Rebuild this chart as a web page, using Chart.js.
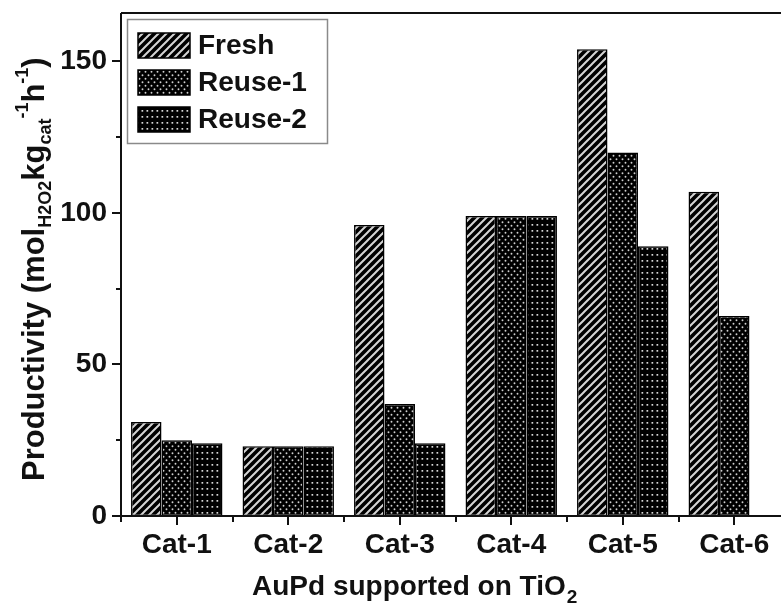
<!DOCTYPE html>
<html>
<head>
<meta charset="utf-8">
<script src="https://cdn.jsdelivr.net/npm/chart.js@4"></script>
<style>
  html, body { margin: 0; padding: 0; background: #fff; overflow: hidden; }
  canvas { display: block; }
</style>
</head>
<body>
<canvas id="chart" width="800" height="605"></canvas>
<script>
// values
const categories = ["Cat-1", "Cat-2", "Cat-3", "Cat-4", "Cat-5", "Cat-6"];
const seriesNames = ["Fresh", "Reuse-1", "Reuse-2"];
const fresh = [31, 23, 96, 99, 154, 107];
const reuse1 = [25, 23, 37, 99, 120, 66];
const reuse2 = [24, 23, 24, 99, 89, null];
const yTicks = [0, 50, 100, 150];
const yMinorTicks = [25, 75, 125];
const yMax = 166;

const FONT = "'Liberation Sans', Arial, sans-serif";
const ink = "#111";

const canvas = document.getElementById("chart");
const ctx = canvas.getContext("2d");

function makePattern(w, h, draw) {
    const c = document.createElement("canvas");
    c.width = w;
    c.height = h;
    const g = c.getContext("2d");
    g.fillStyle = "#000";
    g.fillRect(0, 0, w, h);
    draw(g, w, h);
    return ctx.createPattern(c, "repeat");
}

// diagonal hatch
const hatch = makePattern(8, 8, function (g, w, h) {
    g.strokeStyle = "#d4d4d4";
    g.lineWidth = 2;
    g.beginPath();
    g.moveTo(-2, h + 2); g.lineTo(w + 2, -2);
    g.moveTo(-6, 6); g.lineTo(6, -6);
    g.moveTo(2, h + 6); g.lineTo(w + 6, 2);
    g.stroke();
});
// staggered dots
const dots = makePattern(6, 7, function (g) {
    g.fillStyle = "#cfcfcf";
    g.beginPath();
    g.arc(1.5, 1.75, 0.95, 0, Math.PI * 2);
    g.arc(4.5, 5.25, 0.95, 0, Math.PI * 2);
    g.fill();
});
// square grid dots
const grid = makePattern(5, 6, function (g) {
    g.fillStyle = "#d8d8d8";
    g.fillRect(1.5, 2, 1.7, 1.7);
});

const patterns = [hatch, dots, grid];
const seriesData = [fresh, reuse1, reuse2];

const framePlugin = {
    id: "frame",
    afterDraw(chart) {
        const c = chart.ctx;
        const area = chart.chartArea;
        const xs = chart.scales.x;
        const ys = chart.scales.y;
        c.save();
        c.strokeStyle = ink;
        c.lineWidth = 2;
        c.lineCap = "butt";

        // box
        c.beginPath();
        c.moveTo(area.left, area.top);
        c.lineTo(area.right, area.top);
        c.lineTo(area.right, area.bottom);
        c.moveTo(area.left, area.top);
        c.lineTo(area.left, area.bottom + 6);
        c.moveTo(area.left - 9, area.bottom);
        c.lineTo(area.right, area.bottom);
        c.stroke();

        // y ticks
        c.beginPath();
        yTicks.forEach(function (v) {
            const y = Math.round(ys.getPixelForValue(v));
            c.moveTo(area.left - 9, y);
            c.lineTo(area.left, y);
        });
        yMinorTicks.forEach(function (v) {
            const y = Math.round(ys.getPixelForValue(v));
            c.moveTo(area.left - 5, y);
            c.lineTo(area.left, y);
        });
        // x ticks
        categories.forEach(function (cat, i) {
            const x = Math.round(xs.getPixelForValue(i));
            c.moveTo(x, area.bottom);
            c.lineTo(x, area.bottom + 9);
            if (i > 0) {
                const xb = Math.round((xs.getPixelForValue(i - 1) + xs.getPixelForValue(i)) / 2);
                c.moveTo(xb, area.bottom);
                c.lineTo(xb, area.bottom + 6);
            }
        });
        c.stroke();

        // legend
        c.lineWidth = 1.5;
        c.strokeStyle = "#8a8a8a";
        c.strokeRect(127.5, 19.5, 200, 124);
        chart.data.datasets.forEach(function (ds, i) {
            const top = 33 + i * 37;
            c.fillStyle = ds.backgroundColor;
            c.fillRect(138, top, 52, 25);
            c.strokeStyle = "#000";
            c.strokeRect(138, top, 52, 25);
            c.fillStyle = ink;
            c.font = "bold 28px " + FONT;
            c.textBaseline = "middle";
            c.textAlign = "left";
            c.fillText(ds.label, 198, top + 13);
        });

        // x title
        c.textBaseline = "alphabetic";
        c.font = "bold 28px " + FONT;
        const xt = "AuPd supported on TiO";
        c.fillText(xt, 252, 595);
        const xw = c.measureText(xt).width;
        c.font = "bold 19px " + FONT;
        c.fillText("2", 252 + xw + 1, 603);

        // y title
        c.translate(44, 481);
        c.rotate(-Math.PI / 2);
        const big = "bold 31px " + FONT;
        const small = "bold 18px " + FONT;
        const parts = [
            { t: "Productivity (mol", f: big, dy: 0 },
            { t: "H2O2", f: small, dy: 7 },
            { t: "kg", f: big, dy: 0 },
            { t: "cat", f: small, dy: 7 },
            { t: "-1", f: small, dy: -16 },
            { t: "h", f: big, dy: 0 },
            { t: "-1", f: small, dy: -16 },
            { t: ")", f: big, dy: 0 }
        ];
        let px = 0;
        parts.forEach(function (p) {
            c.font = p.f;
            c.fillText(p.t, px, p.dy);
            px += c.measureText(p.t).width;
        });
        c.restore();
    }
};

const chart = new Chart(canvas, {
    type: "bar",
    data: {
        labels: categories,
        datasets: seriesNames.map(function (name, i) {
            return {
                label: name,
                data: seriesData[i],
                backgroundColor: patterns[i],
                borderColor: "#000",
                borderWidth: 1.5,
                borderSkipped: false,
                categoryPercentage: 0.82,
                barPercentage: 1.0
            };
        })
    },
    options: {
        responsive: false,
        maintainAspectRatio: false,
        animation: false,
        layout: { padding: { left: 0, top: 13, right: 10, bottom: 0 } },
        plugins: {
            legend: { display: false },
            tooltip: { enabled: false }
        },
        scales: {
            x: {
                type: "category",
                grid: { display: false },
                border: { display: false },
                ticks: {
                    color: ink,
                    font: { family: FONT, size: 28, weight: "bold" },
                    padding: 4,
                    maxRotation: 0,
                    autoSkip: false
                },
                afterFit(scale) {
                    scale.height = 89;
                    scale.paddingLeft = 0;
                    scale.paddingRight = 0;
                }
            },
            y: {
                min: 0,
                max: yMax,
                grid: { display: false },
                border: { display: false },
                afterBuildTicks(scale) {
                    scale.ticks = yTicks.map(function (v) { return { value: v }; });
                },
                ticks: {
                    color: ink,
                    font: { family: FONT, size: 28, weight: "bold" },
                    padding: 6
                },
                afterFit(scale) {
                    scale.width = 121;
                    scale.paddingTop = 0;
                    scale.paddingBottom = 0;
                }
            }
        }
    },
    plugins: [framePlugin]
});
</script>
</body>
</html>
